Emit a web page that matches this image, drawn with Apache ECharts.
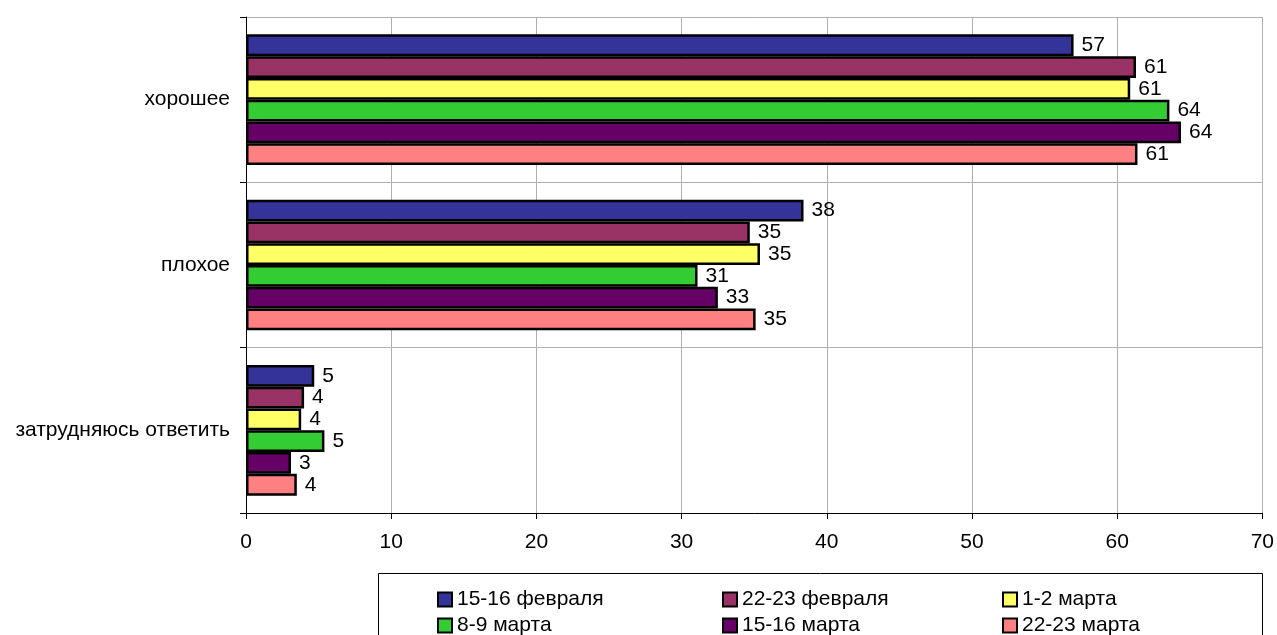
<!DOCTYPE html>
<html>
<head>
<meta charset="utf-8">
<script src="https://cdn.jsdelivr.net/npm/echarts@6/dist/echarts.min.js"></script>
<style>
  html, body { margin: 0; padding: 0; background: #fff; }
  #chart { width: 1277px; height: 635px; }
</style>
</head>
<body>
<div id="chart"></div>
<script>
// категории сверху вниз
const categories = ['хорошее', 'плохое', 'затрудняюсь ответить'];
const seriesNames = ['15-16 февраля', '22-23 февраля', '1-2 марта', '8-9 марта', '15-16 марта', '22-23 марта'];
const seriesColors = ['#333399', '#993366', '#FFFF66', '#33CC33', '#660066', '#FF8080'];
// значения по сериям: [хорошее, плохое, затрудняюсь]
const feb15 = [57.0, 38.4, 4.7];
const feb22 = [61.3, 34.7, 4.0];
const mar1 = [60.9, 35.4, 3.8];
const mar8 = [63.6, 31.1, 5.4];
const mar15 = [64.4, 32.5, 3.1];
const mar22 = [61.4, 35.1, 3.5];
const seriesValues = [feb15, feb22, mar1, mar8, mar15, mar22];
const xTicks = [0, 70, 10];

const font = 'Liberation Sans, Arial, sans-serif';
const chart = echarts.init(document.getElementById('chart'));

// легенда: 2 ряда по 3 колонки
const legendCols = [437, 722, 1002];
const legendRows = [589, 615];
const legends = seriesNames.map((name, i) => ({
  data: [name],
  left: legendCols[i % 3],
  top: legendRows[Math.floor(i / 3)],
  icon: 'rect',
  itemWidth: 14,
  itemHeight: 14,
  itemGap: 0,
  padding: 0,
  selectedMode: false,
  textStyle: {
    fontFamily: font,
    fontSize: 21,
    color: '#000',
    padding: [0, 0, 0, 0],
  },
  itemStyle: { borderColor: '#000', borderWidth: 2 },
}));

chart.setOption({
  animation: false,
  backgroundColor: '#fff',
  grid: { left: 246, right: 14, top: 17, bottom: 122 },
  graphic: [
    {
      type: 'rect',
      shape: { x: 378.5, y: 573.5, width: 884, height: 80 },
      style: { fill: 'none', stroke: '#000', lineWidth: 1 },
    },
  ],
  legend: legends,
  xAxis: {
    type: 'value',
    min: xTicks[0],
    max: xTicks[1],
    interval: xTicks[2],
    axisLine: { show: true, lineStyle: { color: '#000', width: 1 } },
    axisTick: { show: true, length: 6, lineStyle: { color: '#000' } },
    axisLabel: { color: '#000', fontSize: 21, fontFamily: font, margin: 19 },
    splitLine: { show: true, lineStyle: { color: '#b0b0b0', width: 1 } },
  },
  yAxis: {
    type: 'category',
    inverse: true,
    data: categories,
    axisLine: { show: true, lineStyle: { color: '#000', width: 1 } },
    axisTick: { show: true, length: 6, lineStyle: { color: '#000' } },
    axisLabel: { color: '#000', fontSize: 21, fontFamily: font, margin: 16 },
    splitLine: { show: true, lineStyle: { color: '#b0b0b0', width: 1 } },
  },
  series: seriesNames.map((name, i) => ({
    name,
    type: 'bar',
    data: seriesValues[i],
    barCategoryGap: '21%',
    barGap: '0%',
    itemStyle: { color: seriesColors[i], borderColor: '#000', borderWidth: 2.5 },
    label: {
      show: true,
      position: 'right',
      distance: 8,
      color: '#000',
      fontSize: 21,
      fontFamily: font,
      formatter: (p) => Math.round(p.value),
    },
  })),
});
</script>
</body>
</html>
